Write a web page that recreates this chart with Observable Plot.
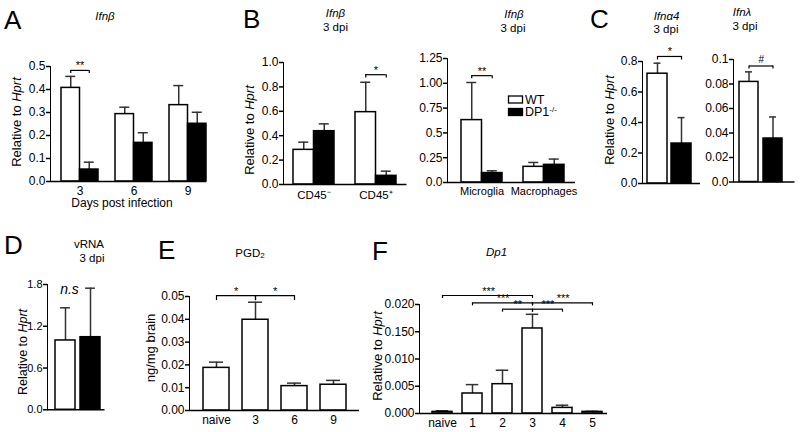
<!DOCTYPE html>
<html>
<head>
<meta charset="utf-8">
<script src="https://cdn.jsdelivr.net/npm/d3@7"></script>
<script src="https://cdn.jsdelivr.net/npm/@observablehq/plot@0.6"></script>
<style>
html,body{margin:0;padding:0;background:#fff;}
#fig{position:relative;width:802px;height:432px;overflow:hidden;background:#fff;}
#fig svg g[aria-label="y-axis tick"]{stroke-width:1.5px;}
</style>
</head>
<body>
<div id="fig"></div>
<script>
// ---------------- data ----------------
// A: Ifnb, days post infection
const aDays = ["3", "6", "9"];
const aWT = [0.407, 0.293, 0.332];
const aWTsem = [0.050, 0.030, 0.085];
const aDP1 = [0.052, 0.168, 0.251];
const aDP1sem = [0.032, 0.044, 0.050];
const aTicks = [0, 0.1, 0.2, 0.3, 0.4, 0.5];
const aTickLabels = ["0.0", "0.1", "0.2", "0.3", "0.4", "0.5"];
const aBrackets = [{c: "3", y: 0.483, leg: 0.470, label: "**"}];

// B left: CD45- / CD45+
const bCells = ["CD45⁻", "CD45⁺"];
const bWT = [0.284, 0.593];
const bWTsem = [0.063, 0.245];
const bDP1 = [0.437, 0.071];
const bDP1sem = [0.060, 0.038];
const bTicks = [0, 0.2, 0.4, 0.6, 0.8, 1.0];
const bTickLabels = ["0.0", "0.2", "0.4", "0.6", "0.8", "1.0"];
const bBrackets = [{c: "CD45⁺", y: 0.90, leg: 0.872, label: "*"}];

// B right: Microglia / Macrophages
const b2Cells = ["Microglia", "Macrophages"];
const b2WT = [0.629, 0.158];
const b2WTsem = [0.379, 0.044];
const b2DP1 = [0.095, 0.178];
const b2DP1sem = [0.023, 0.058];
const b2Ticks = [0, 0.25, 0.5, 0.75, 1.0, 1.25];
const b2TickLabels = ["0.0", "0.25", "0.5", "0.75", "1.00", "1.25"];
const b2Brackets = [{c: "Microglia", y: 1.077, leg: 1.047, label: "**"}];

// C: Ifna4 and Ifnl
const genotypes = ["WT", "DP1"];
const cA4 = [0.720, 0.262];
const cA4sem = [0.069, 0.170];
const cA4Ticks = [0, 0.2, 0.4, 0.6, 0.8];
const cA4TickLabels = ["0.0", "0.2", "0.4", "0.6", "0.8"];
const cA4Brackets = [{from: "WT", to: "DP1", y: 0.833, leg: 0.810, label: "*"}];

const cL = [0.0817, 0.0355];
const cLsem = [0.0082, 0.0176];
const cLTicks = [0, 0.02, 0.04, 0.06, 0.08, 0.1];
const cLTickLabels = ["0.0", "0.02", "0.04", "0.06", "0.08", "0.1"];
const cLBrackets = [{from: "WT", to: "DP1", y: 0.0947, leg: 0.0922, label: "#"}];

// D: vRNA
const dVals = [0.996, 1.043];
const dSem = [0.469, 0.704];
const dTicks = [0, 0.6, 1.2, 1.8];
const dTickLabels = ["0.0", "0.6", "1.2", "1.8"];
const dNotes = [{c: "WT", y: 1.667, label: "n.s"}];

// E: PGD2
const eGroups = ["naive", "3", "6", "9"];
const eVals = [0.0187, 0.0398, 0.0107, 0.0113];
const eSem = [0.0025, 0.0077, 0.0013, 0.0019];
const eTicks = [0, 0.01, 0.02, 0.03, 0.04, 0.05];
const eTickLabels = ["0.00", "0.01", "0.02", "0.03", "0.04", "0.05"];
const eBrackets = [
  {from: "naive", to: "3", y: 0.0504, leg: 0.0482, label: "*"},
  {from: "3", to: "6", y: 0.0504, leg: 0.0482, label: "*"}
];

// F: Dp1
const fGroups = ["naive", "1", "2", "3", "4", "5"];
const fVals = [0.0003, 0.00367, 0.00538, 0.0156, 0.00103, 0.0003];
const fSem = [0.0002, 0.00163, 0.00256, 0.0026, 0.00049, 0.0001];
const fTicks = [0, 0.005, 0.01, 0.015, 0.02];
const fTickLabels = ["0.000", "0.005", "0.010", "0.150", "0.020"];
const fBrackets = [
  {from: "naive", to: "3", y: 0.02165, leg: 0.0211, label: "***"},
  {from: "1", to: "3", y: 0.02031, leg: 0.01976, label: "***"},
  {from: "2", to: "3", y: 0.01914, leg: 0.01859, label: "**"},
  {from: "3", to: "4", y: 0.01914, leg: 0.01859, label: "***"},
  {from: "3", to: "5", y: 0.02031, leg: 0.01976, label: "***"}
];

// ---------------- drawing ----------------
const FONT = "'Liberation Sans', Arial, Helvetica, sans-serif";
const fig = document.getElementById("fig");
const EC = "#333";
const LW = {stroke: EC, strokeWidth: 1.5};
const BW = {stroke: "black", strokeWidth: 1.2};

function bandGeom(n, lo, hi, pi, po) {
  const step = (hi - lo) / Math.max(1, n - pi + 2 * po);
  return {step, bw: step * (1 - pi)};
}

function panel(o) {
  const mL = 44, mR = 8, mT = 34, mB = 26;
  const [x0, x1] = o.frame, [y0, y1] = o.yPx;
  const width = x1 - x0 + mL + mR, height = y1 - y0 + mT + mB;
  const lab = new Map(o.ticks.map((t, i) => [t, o.tickLabels[i]]));
  const svg = Plot.plot({
    width, height, marginLeft: mL, marginRight: mR, marginTop: mT, marginBottom: mB,
    style: `background:transparent;font-family:${FONT};font-size:${o.font ?? 12}px;color:#000;overflow:visible;`,
    x: {type: "band", domain: o.domain, paddingInner: o.pi, paddingOuter: o.po, align: o.align,
        axis: null, label: null},
    y: {domain: [0, o.max], ticks: o.ticks, tickFormat: d => lab.get(d), tickSize: 4, tickPadding: 1, line: true, label: null},
    color: {domain: ["WT", "DP1"], range: ["white", "black"]},
    marks: [
      ...o.marks(bandGeom(o.domain.length, x0, x1, o.pi, o.po)),
      Plot.ruleY([0], {strokeWidth: 1.6}),
      o.xAxis ? Plot.axisX({tickSize: 0, tickPadding: o.xPad ?? 6, fontSize: o.xFont ?? 12, label: null}) : null
    ]
  });
  svg.style.position = "absolute";
  svg.style.left = (x0 - mL) + "px";
  svg.style.top = (y0 - mT) + "px";
  fig.appendChild(svg);
}

function groupedMarks(cats, wt, wtSem, dp, dpSem, cap, br) {
  return g => {
    const rows = cats.map((c, i) => ({c, wt: wt[i], wtTop: wt[i] + wtSem[i], dp: dp[i], dpTop: dp[i] + dpSem[i]}));
    const b = g.bw, q = b / 4;
    return [
      Plot.ruleX(rows, {x: "c", y1: "wt", y2: "wtTop", dx: -q, ...LW}),
      Plot.tickY(rows, {x: "c", y: "wtTop", insetLeft: q - cap / 2, insetRight: b - q - cap / 2, ...LW}),
      Plot.ruleX(rows, {x: "c", y1: "dp", y2: "dpTop", dx: q, ...LW}),
      Plot.tickY(rows, {x: "c", y: "dpTop", insetLeft: 3 * q - cap / 2, insetRight: q - cap / 2, ...LW}),
      Plot.barY(rows, {x: "c", y: "wt", fill: "white", stroke: "black", strokeWidth: 1.5, insetRight: b / 2}),
      Plot.barY(rows, {x: "c", y: "dp", fill: "black", stroke: "black", strokeWidth: 1.5, insetLeft: b / 2}),
      Plot.tickY(br, {x: "c", y: "y", insetLeft: q, insetRight: q, ...BW}),
      Plot.ruleX(br, {x: "c", y1: "leg", y2: "y", dx: -q, ...BW}),
      Plot.ruleX(br, {x: "c", y1: "leg", y2: "y", dx: q, ...BW}),
      Plot.text(br, {x: "c", y: "y", text: "label", lineAnchor: "bottom", dy: -1, fontSize: 11})
    ];
  };
}

function simpleMarks(cats, vals, sem, cap, br, byGenotype, extra = []) {
  return g => {
    const rows = cats.map((c, i) => ({c, v: vals[i], top: vals[i] + sem[i]}));
    const b = g.bw, s = g.step;
    const idx = new Map(cats.map((c, i) => [c, i]));
    return [
      Plot.ruleX(rows, {x: "c", y1: "v", y2: "top", ...LW}),
      Plot.tickY(rows, {x: "c", y: "top", insetLeft: (b - cap) / 2, insetRight: (b - cap) / 2, ...LW}),
      Plot.barY(rows, {x: "c", y: "v", fill: byGenotype ? "c" : "white", stroke: "black", strokeWidth: 1.5}),
      Plot.link(br, {x1: "from", x2: "to", y1: "y", y2: "y", ...BW}),
      Plot.ruleX(br, {x: "from", y1: "leg", y2: "y", ...BW}),
      Plot.ruleX(br, {x: "to", y1: "leg", y2: "y", ...BW}),
      ...br.map(d => Plot.text([d], {
        x: "from", y: "y", text: "label", lineAnchor: "bottom",
        dx: (idx.get(d.to) - idx.get(d.from)) * s / 2,
        dy: d.label === "#" ? -3 : -1, fontSize: d.label === "#" ? 10 : 11
      })),
      ...extra
    ];
  };
}

// A
panel({frame: [50, 206], yPx: [66, 181], max: 0.5, ticks: aTicks, tickLabels: aTickLabels,
  domain: aDays, pi: 0.321, po: 0.0917, align: 0.95, xAxis: true, xPad: 4.5,
  marks: groupedMarks(aDays, aWT, aWTsem, aDP1, aDP1sem, 10, aBrackets)});
// B left
panel({frame: [283, 406.5], yPx: [62, 184], max: 1.0, ticks: bTicks, tickLabels: bTickLabels,
  domain: bCells, pi: 0.3387, po: 0.1653, align: 0.51, xAxis: true, xPad: 6, xFont: 11.5,
  marks: groupedMarks(bCells, bWT, bWTsem, bDP1, bDP1sem, 10, bBrackets)});
// B right
panel({frame: [447, 575], yPx: [58, 182], max: 1.25, ticks: b2Ticks, tickLabels: b2TickLabels,
  domain: b2Cells, pi: 0.3387, po: 0.2016, align: 0.58, xAxis: true, xPad: 5, xFont: 11,
  marks: groupedMarks(b2Cells, b2WT, b2WTsem, b2DP1, b2DP1sem, 10, b2Brackets)});
// C left
panel({frame: [642, 700], yPx: [61, 183], max: 0.8, ticks: cA4Ticks, tickLabels: cA4TickLabels,
  domain: genotypes, pi: 0.15, po: 0.2467, align: 0.37, xAxis: false,
  marks: simpleMarks(genotypes, cA4, cA4sem, 8, cA4Brackets, true)});
// C right
panel({frame: [732.5, 794], yPx: [58.5, 181], max: 0.1, ticks: cLTicks, tickLabels: cLTickLabels,
  domain: genotypes, pi: 0.19, po: 0.34, align: 0.345, xAxis: false,
  marks: simpleMarks(genotypes, cL, cLsem, 8, cLBrackets, true)});
// D
panel({frame: [46.5, 104], yPx: [284, 409.3], max: 1.8, ticks: dTicks, tickLabels: dTickLabels, font: 11,
  domain: genotypes, pi: 0.22, po: 0.22, align: 0.6, xAxis: false,
  marks: simpleMarks(genotypes, dVals, dSem, 10, [], true,
    [Plot.text(dNotes, {x: "c", y: "y", text: "label", dx: 4, lineAnchor: "bottom", fontSize: 14, fontStyle: "italic"})])});
// E
panel({frame: [189, 359], yPx: [296, 410], max: 0.05, ticks: eTicks, tickLabels: eTickLabels,
  domain: eGroups, pi: 0.342, po: 0.323, align: 0.51, xAxis: true, xPad: 5,
  marks: simpleMarks(eGroups, eVals, eSem, 14, eBrackets, false)});
// F
panel({frame: [419, 607], yPx: [304.3, 413.3], max: 0.02, ticks: fTicks, tickLabels: fTickLabels,
  domain: fGroups, pi: 0.332, po: 0.228, align: 0.73, xAxis: true, xPad: 5,
  marks: simpleMarks(fGroups, fVals, fSem, 13, fBrackets, false)});

// ---------------- text overlay: panel letters, titles, axis titles, legend ----------------
const NS = "http://www.w3.org/2000/svg";
const ov = document.createElementNS(NS, "svg");
ov.setAttribute("width", 802); ov.setAttribute("height", 432);
ov.style.cssText = `position:absolute;left:0;top:0;font-family:${FONT};pointer-events:none;`;
fig.appendChild(ov);

function txt(x, y, parts, {size = 12, anchor = "middle", rotate = 0} = {}) {
  const t = document.createElementNS(NS, "text");
  t.setAttribute("x", x); t.setAttribute("y", y);
  t.setAttribute("font-size", size); t.setAttribute("text-anchor", anchor); t.setAttribute("fill", "#000");
  if (rotate) t.setAttribute("transform", `rotate(${rotate} ${x} ${y})`);
  for (const p of (typeof parts === "string" ? [{t: parts}] : parts)) {
    const s = document.createElementNS(NS, "tspan");
    s.textContent = p.t;
    if (p.i) s.setAttribute("font-style", "italic");
    if (p.size) s.setAttribute("font-size", p.size);
    if (p.dy) s.setAttribute("dy", p.dy);
    t.appendChild(s);
  }
  ov.appendChild(t);
}
function rect(x, y, w, h, fill) {
  const r = document.createElementNS(NS, "rect");
  r.setAttribute("x", x); r.setAttribute("y", y); r.setAttribute("width", w); r.setAttribute("height", h);
  r.setAttribute("fill", fill); r.setAttribute("stroke", "#000"); r.setAttribute("stroke-width", 1.3);
  ov.appendChild(r);
}

// letters
const L = {size: 26, anchor: "start"};
txt(4, 29, "A", L); txt(243, 28.3, "B", L); txt(590, 28.3, "C", L);
txt(4, 254, "D", L); txt(158, 259, "E", L); txt(372, 260, "F", L);

// titles
const T = {size: 11.5};
txt(105, 19.5, [{t: "Ifnβ", i: true}], T);
txt(335.5, 17, [{t: "Ifnβ", i: true}], T); txt(335.5, 30.5, "3 dpi", T);
txt(514, 18, [{t: "Ifnβ", i: true}], T); txt(513, 31.5, "3 dpi", T);
txt(666.5, 19.5, [{t: "Ifnα4", i: true}], T); txt(666, 33, "3 dpi", T);
txt(742, 16, [{t: "Ifnλ", i: true}], T); txt(745, 30, "3 dpi", T);
txt(89, 247.5, "vRNA", T); txt(92, 262, "3 dpi", T);
txt(250, 256.5, [{t: "PGD"}, {t: "2", size: 8, dy: 1.5}], T);
txt(496.5, 255.5, [{t: "Dp1", i: true}], T);

// axis titles
const YL = [{t: "Relative to "}, {t: "Hprt", i: true}];
const R = {size: 13, rotate: -90};
txt(20.5, 122, YL, R);
txt(253.5, 130, YL, R);
txt(613.5, 120, YL, R);
txt(27, 352, YL, {size: 12.5, rotate: -90});
txt(155, 348, "ng/mg brain", R);
txt(381.5, 356, YL, R);
txt(122, 207, "Days post infection");

// legend
rect(508.5, 96, 14, 7, "#fff");
rect(508.5, 108.5, 14, 7, "#000");
txt(525, 103.8, "WT", {size: 12.5, anchor: "start"});
txt(525, 116.3, [{t: "DP1"}, {t: "-/-", size: 8, dy: -4}], {size: 12.5, anchor: "start"});
</script>
</body>
</html>
